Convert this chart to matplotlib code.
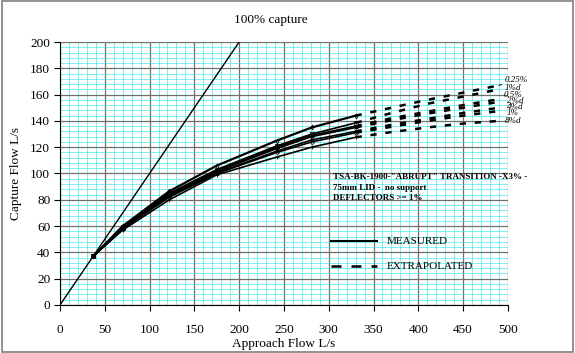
import matplotlib.pyplot as plt
import matplotlib.patches as patches
import numpy as np

plt.rcParams['font.family'] = ['Liberation Serif', 'DejaVu Serif']

# measured points
x_meas = [37, 70, 122, 175, 242, 281, 330]
names = ["0.25%", "1%d", "0.5%", "2%d", "4%d", "1%", "8%d"]
y_meas = {
    "0.25%": [37, 60, 86.5, 106, 125, 135, 144],
    "1%d":   [37, 59, 85, 103, 121, 130, 138.5],
    "0.5%":  [37, 59, 84, 102, 120, 129, 136],
    "2%d":   [37, 58.5, 83.5, 101.5, 119, 128, 135],
    "4%d":   [37, 58, 83, 100.5, 117, 125.5, 132],
    "1%":    [37, 58, 82, 100, 116, 124, 131],
    "8%d":   [37, 57, 80, 99, 112.5, 120, 127.5],
}

# extrapolated part
x_extr = [330, 370, 410, 450, 490]
y_extr = {
    "0.25%": [144, 150, 156, 161.5, 167],
    "1%d":   [138.5, 146, 153, 158.5, 164],
    "0.5%":  [136, 142, 147, 152, 156.5],
    "2%d":   [135, 140.5, 145.5, 150, 154.5],
    "4%d":   [132, 137, 141.5, 146, 150],
    "1%":    [131, 135.5, 140, 144, 147.5],
    "8%d":   [127.5, 131.5, 135, 138, 140],
}
label_y = [171, 165, 159.7, 155, 150.6, 146, 140]
label_x = [496, 496, 495, 499, 499, 499, 496]

capture_x = [0, 202]
capture_y = [0, 202]

markers = ["d", "s", "^", "x", "*", "o", "+"]

fig = plt.figure(figsize=(5.75, 3.53), dpi=100)
ax = fig.add_axes([0.1043, 0.136, 0.779, 0.745])

ax.plot(capture_x, capture_y, color="black", lw=1)

for i, n in enumerate(names):
    ax.plot(x_meas, y_meas[n], color="black", lw=1.6 if i == 0 else 1.2,
            marker=markers[i], ms=2.5, mfc="none", mew=0.6)
    ax.plot(x_extr, y_extr[n], color="black", lw=1.8, dashes=(2.5, 3.5))
    if i == 0:
        ax.annotate(n, xy=(x_extr[-1], y_extr[n][-1]), xytext=(label_x[i], label_y[i]),
                    fontsize=6.5, style="italic", va="center", annotation_clip=False,
                    arrowprops=dict(arrowstyle="-", lw=0.7, color="black",
                                    shrinkA=0, shrinkB=0))
    else:
        ax.text(label_x[i], label_y[i], n, fontsize=6.5, style="italic",
                va="center", clip_on=False)

ax.set_xlim(0, 500)
ax.set_ylim(0, 200)
ax.set_xticks(np.arange(0, 501, 50))
ax.set_yticks(np.arange(0, 201, 20))
ax.set_xticks(np.arange(0, 501, 10), minor=True)
ax.set_yticks(np.arange(0, 201, 4), minor=True)
ax.grid(which="minor", color="#33e6e6", lw=0.45)
ax.grid(which="major", color="#707070", lw=0.9)
ax.set_axisbelow(True)
ax.tick_params(which="minor", length=0)
ax.tick_params(which="major", direction="out", length=4, labelsize=9.5, pad=10)
ax.tick_params(axis="y", pad=3)
for s in ["top", "right"]:
    ax.spines[s].set_visible(False)
ax.set_xlabel("Approach Flow L/s", fontsize=9.5, labelpad=1)
ax.set_ylabel("Capture Flow L/s", fontsize=9.5, labelpad=6)

ax.text(235, 212, "100% capture", fontsize=9.5, ha="center", va="bottom", clip_on=False)

ax.text(305, 100, 'TSA-BK-1900-"ABRUPT" TRANSITION -X3% -\n75mm LID -  no support\nDEFLECTORS >= 1%',
        fontsize=6.5, fontweight="bold", va="top", linespacing=1.35)

# legend
ax.plot([303, 354], [48.5, 48.5], color="black", lw=1.5)
ax.text(365, 48.5, "MEASURED", fontsize=8, va="center")
ax.plot([303, 354], [29.5, 29.5], color="black", lw=1.8, dashes=(4, 4))
ax.text(365, 29.5, "EXTRAPOLATED", fontsize=8, va="center")

fig.patches.append(patches.Rectangle((0.003, 0.004), 0.994, 0.992, transform=fig.transFigure,
                                     fill=False, edgecolor="#808080", lw=1.2))

fig.savefig("out.png", dpi=100)
